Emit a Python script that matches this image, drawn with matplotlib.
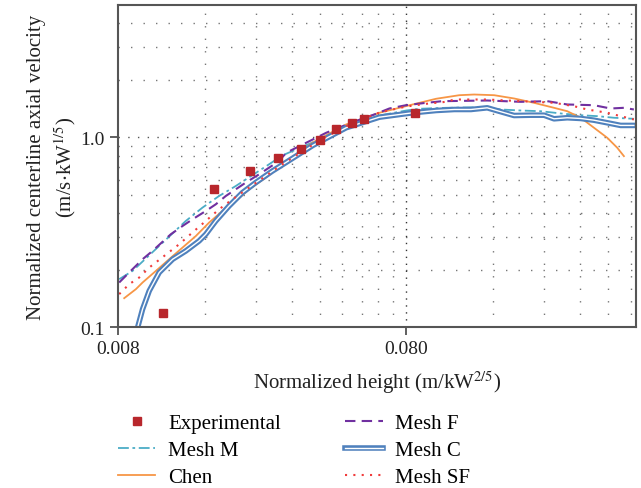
import numpy as np
import matplotlib
matplotlib.use("Agg")
import matplotlib.pyplot as plt
import matplotlib.patheffects as pe
from matplotlib.ticker import FixedLocator, NullLocator, FixedFormatter

plt.rcParams['font.family'] = ['Liberation Serif', 'DejaVu Serif']
plt.rcParams['mathtext.fontset'] = 'stix'
plt.rcParams['font.size'] = 14

# experimental data
exp_x = [0.01148, 0.01723, 0.02296, 0.0286, 0.0344, 0.0400, 0.0457, 0.0518, 0.0569, 0.0855]
exp_y = [0.118, 0.532, 0.662, 0.775, 0.872, 0.973, 1.106, 1.185, 1.244, 1.34]

# Mesh F
f_x = [0.00808, 0.00875, 0.00974, 0.01054, 0.0122, 0.0134, 0.01451, 0.01613, 0.01747, 0.01892,
       0.02218, 0.02467, 0.02892, 0.03067, 0.03793, 0.0422, 0.05216, 0.06285, 0.06987, 0.0798,
       0.0936, 0.1066, 0.1526, 0.1996, 0.2466, 0.2891, 0.3578, 0.4087, 0.4544, 0.4921]
f_y = [0.1719, 0.1941, 0.228, 0.2521, 0.3087, 0.3413, 0.3702, 0.4094, 0.4441, 0.4911,
       0.5776, 0.6387, 0.7503, 0.8307, 0.9761, 1.0586, 1.2036, 1.3325, 1.4213, 1.479,
       1.522, 1.553, 1.566, 1.541, 1.553, 1.492, 1.479, 1.421, 1.433, 1.404]

# Mesh M
m_x = [0.00808, 0.00899, 0.01112, 0.01375, 0.01571, 0.01793, 0.02049, 0.0267, 0.02972, 0.04,
       0.05083, 0.06453, 0.08, 0.0887, 0.1097, 0.149, 0.1702, 0.1996, 0.234, 0.2818,
       0.3219, 0.3674, 0.4197, 0.4921]
m_y = [0.1789, 0.1978, 0.2679, 0.3627, 0.4266, 0.4911, 0.5544, 0.7209, 0.8038, 0.976,
       1.157, 1.305, 1.387, 1.416, 1.433, 1.444, 1.404, 1.387, 1.375, 1.3325,
       1.31, 1.295, 1.27, 1.254]

# Mesh SF
sf_x = [0.00808, 0.00875, 0.00948, 0.01027, 0.01157, 0.01304, 0.0147, 0.01613, 0.01793, 0.01995,
        0.02278, 0.02602, 0.02972, 0.04, 0.05083, 0.06453, 0.08, 0.0936, 0.1097, 0.1173,
        0.1526, 0.1996, 0.2601, 0.3051, 0.3393, 0.3978, 0.4427, 0.4921]
sf_y = [0.1492, 0.1684, 0.1826, 0.2061, 0.2372, 0.2734, 0.3211, 0.3627, 0.4178, 0.4718,
        0.5435, 0.6256, 0.7209, 0.964, 1.171, 1.354, 1.456, 1.504, 1.541, 1.585,
        1.585, 1.553, 1.523, 1.461, 1.404, 1.349, 1.295, 1.244]

# Chen
chen_x = [0.00841, 0.00923, 0.00974, 0.01083, 0.01204, 0.0134, 0.0149, 0.01656, 0.01842, 0.02049,
          0.02278, 0.02602, 0.02972, 0.03793, 0.04947, 0.06453, 0.0841, 0.1014, 0.1221, 0.1375,
          0.1613, 0.1891, 0.2218, 0.2601, 0.2891, 0.3219, 0.3578, 0.3978, 0.4307, 0.4544]
chen_y = [0.1421, 0.1585, 0.1719, 0.1978, 0.228, 0.2627, 0.3022, 0.3556, 0.4094, 0.462,
          0.5325, 0.6136, 0.7209, 0.941, 1.171, 1.349, 1.492, 1.599, 1.67, 1.684,
          1.67, 1.605, 1.522, 1.433, 1.375, 1.27, 1.125, 0.996, 0.883, 0.797]

# Mesh C
c_x = [0.00923, 0.00974, 0.01027, 0.01112, 0.01238, 0.01375, 0.01529, 0.01613, 0.01747, 0.01942,
       0.02161, 0.02401, 0.02744, 0.03051, 0.03793, 0.04947, 0.06453, 0.0841, 0.1014, 0.1173,
       0.134, 0.1526, 0.1702, 0.1891, 0.2161, 0.2402, 0.2601, 0.2891, 0.3219, 0.3578,
       0.3978, 0.4427, 0.4921]
c_y = [0.0919, 0.1244, 0.1553, 0.1941, 0.228, 0.2521, 0.2846, 0.3087, 0.3627, 0.435,
       0.5116, 0.5776, 0.6648, 0.7359, 0.908, 1.125, 1.279, 1.349, 1.387, 1.404,
       1.404, 1.433, 1.366, 1.305, 1.31, 1.31, 1.254, 1.27, 1.259, 1.233,
       1.195, 1.157, 1.157]

fig = plt.figure(figsize=(6.41, 4.89), dpi=100)
ax = fig.add_axes([0.184, 0.329, 0.808, 0.659])
ax.set_xscale('log')
ax.set_yscale('log')
ax.set_xlim(0.008, 0.5)
ax.set_ylim(0.1, 5)

# dotted grid at multiples of 0.008 and at 0.1-steps
gx = [0.008 * k for k in range(2, 10)] + [0.08 * k for k in range(2, 7)]
gy = [0.1 * k for k in range(2, 10)] + [2, 3, 4]
for g in gx:
    ax.axvline(g, color='#777777', lw=1.0, ls=(0, (1, 8)), zorder=0)
for g in gy:
    ax.axhline(g, color='#777777', lw=1.0, ls=(0, (1, 8)), zorder=0)
ax.axvline(0.08, color='#333333', lw=1.0, ls=(0, (1, 4)), zorder=0)
ax.axhline(1.0, color='#555555', lw=1.0, ls=(0, (1, 6)), zorder=0)

ax.plot(exp_x, exp_y, 's', color='#B8272C', ms=6, label='Experimental', zorder=5)
ax.plot(m_x, m_y, color='#4BACC6', lw=1.3, ls=(0, (6, 2, 1.5, 2)), label='Mesh M')
ax.plot(chen_x, chen_y, color='#F79646', lw=1.3, label='Chen')
ax.plot(f_x, f_y, color='#7030A0', lw=1.5, ls=(0, (5, 3)), label='Mesh F')
ax.plot(c_x, c_y, color='white', lw=1.0, label='Mesh C',
        path_effects=[pe.Stroke(linewidth=4.0, foreground='#4F81BD'), pe.Normal()])
ax.plot(sf_x, sf_y, color='#F03C3C', lw=1.5, ls=(0, (1, 3)), label='Mesh SF')

ax.xaxis.set_major_locator(FixedLocator([0.008, 0.08]))
ax.xaxis.set_major_formatter(FixedFormatter(['0.008', '0.080']))
ax.xaxis.set_minor_locator(NullLocator())
ax.yaxis.set_major_locator(FixedLocator([0.1, 1.0]))
ax.yaxis.set_major_formatter(FixedFormatter(['0.1', '1.0']))
ax.yaxis.set_minor_locator(NullLocator())
ax.tick_params(direction='out', length=6, width=1.2, color='#444444', labelsize=14, labelcolor='#222222')

for s in ax.spines.values():
    s.set_color('#555555')
    s.set_linewidth(1.5)

ax.set_xlabel('Normalized height (m/kW$^{2/5}$)', fontsize=15, color='#222222', labelpad=8)
ax.set_ylabel('Normalized centerline axial velocity\n(m/s$\\cdot$kW$^{1/5}$)', fontsize=15,
              color='#222222', linespacing=1.3)
ax.yaxis.set_label_coords(-0.078, 0.5)

fig.legend(loc='upper left', bbox_to_anchor=(0.184, 0.152), ncol=2, frameon=False,
           fontsize=15, handlelength=1.8, handletextpad=0.6, columnspacing=3.1,
           labelspacing=0.36, borderpad=0, borderaxespad=0)

fig.savefig('out.png', dpi=100)
